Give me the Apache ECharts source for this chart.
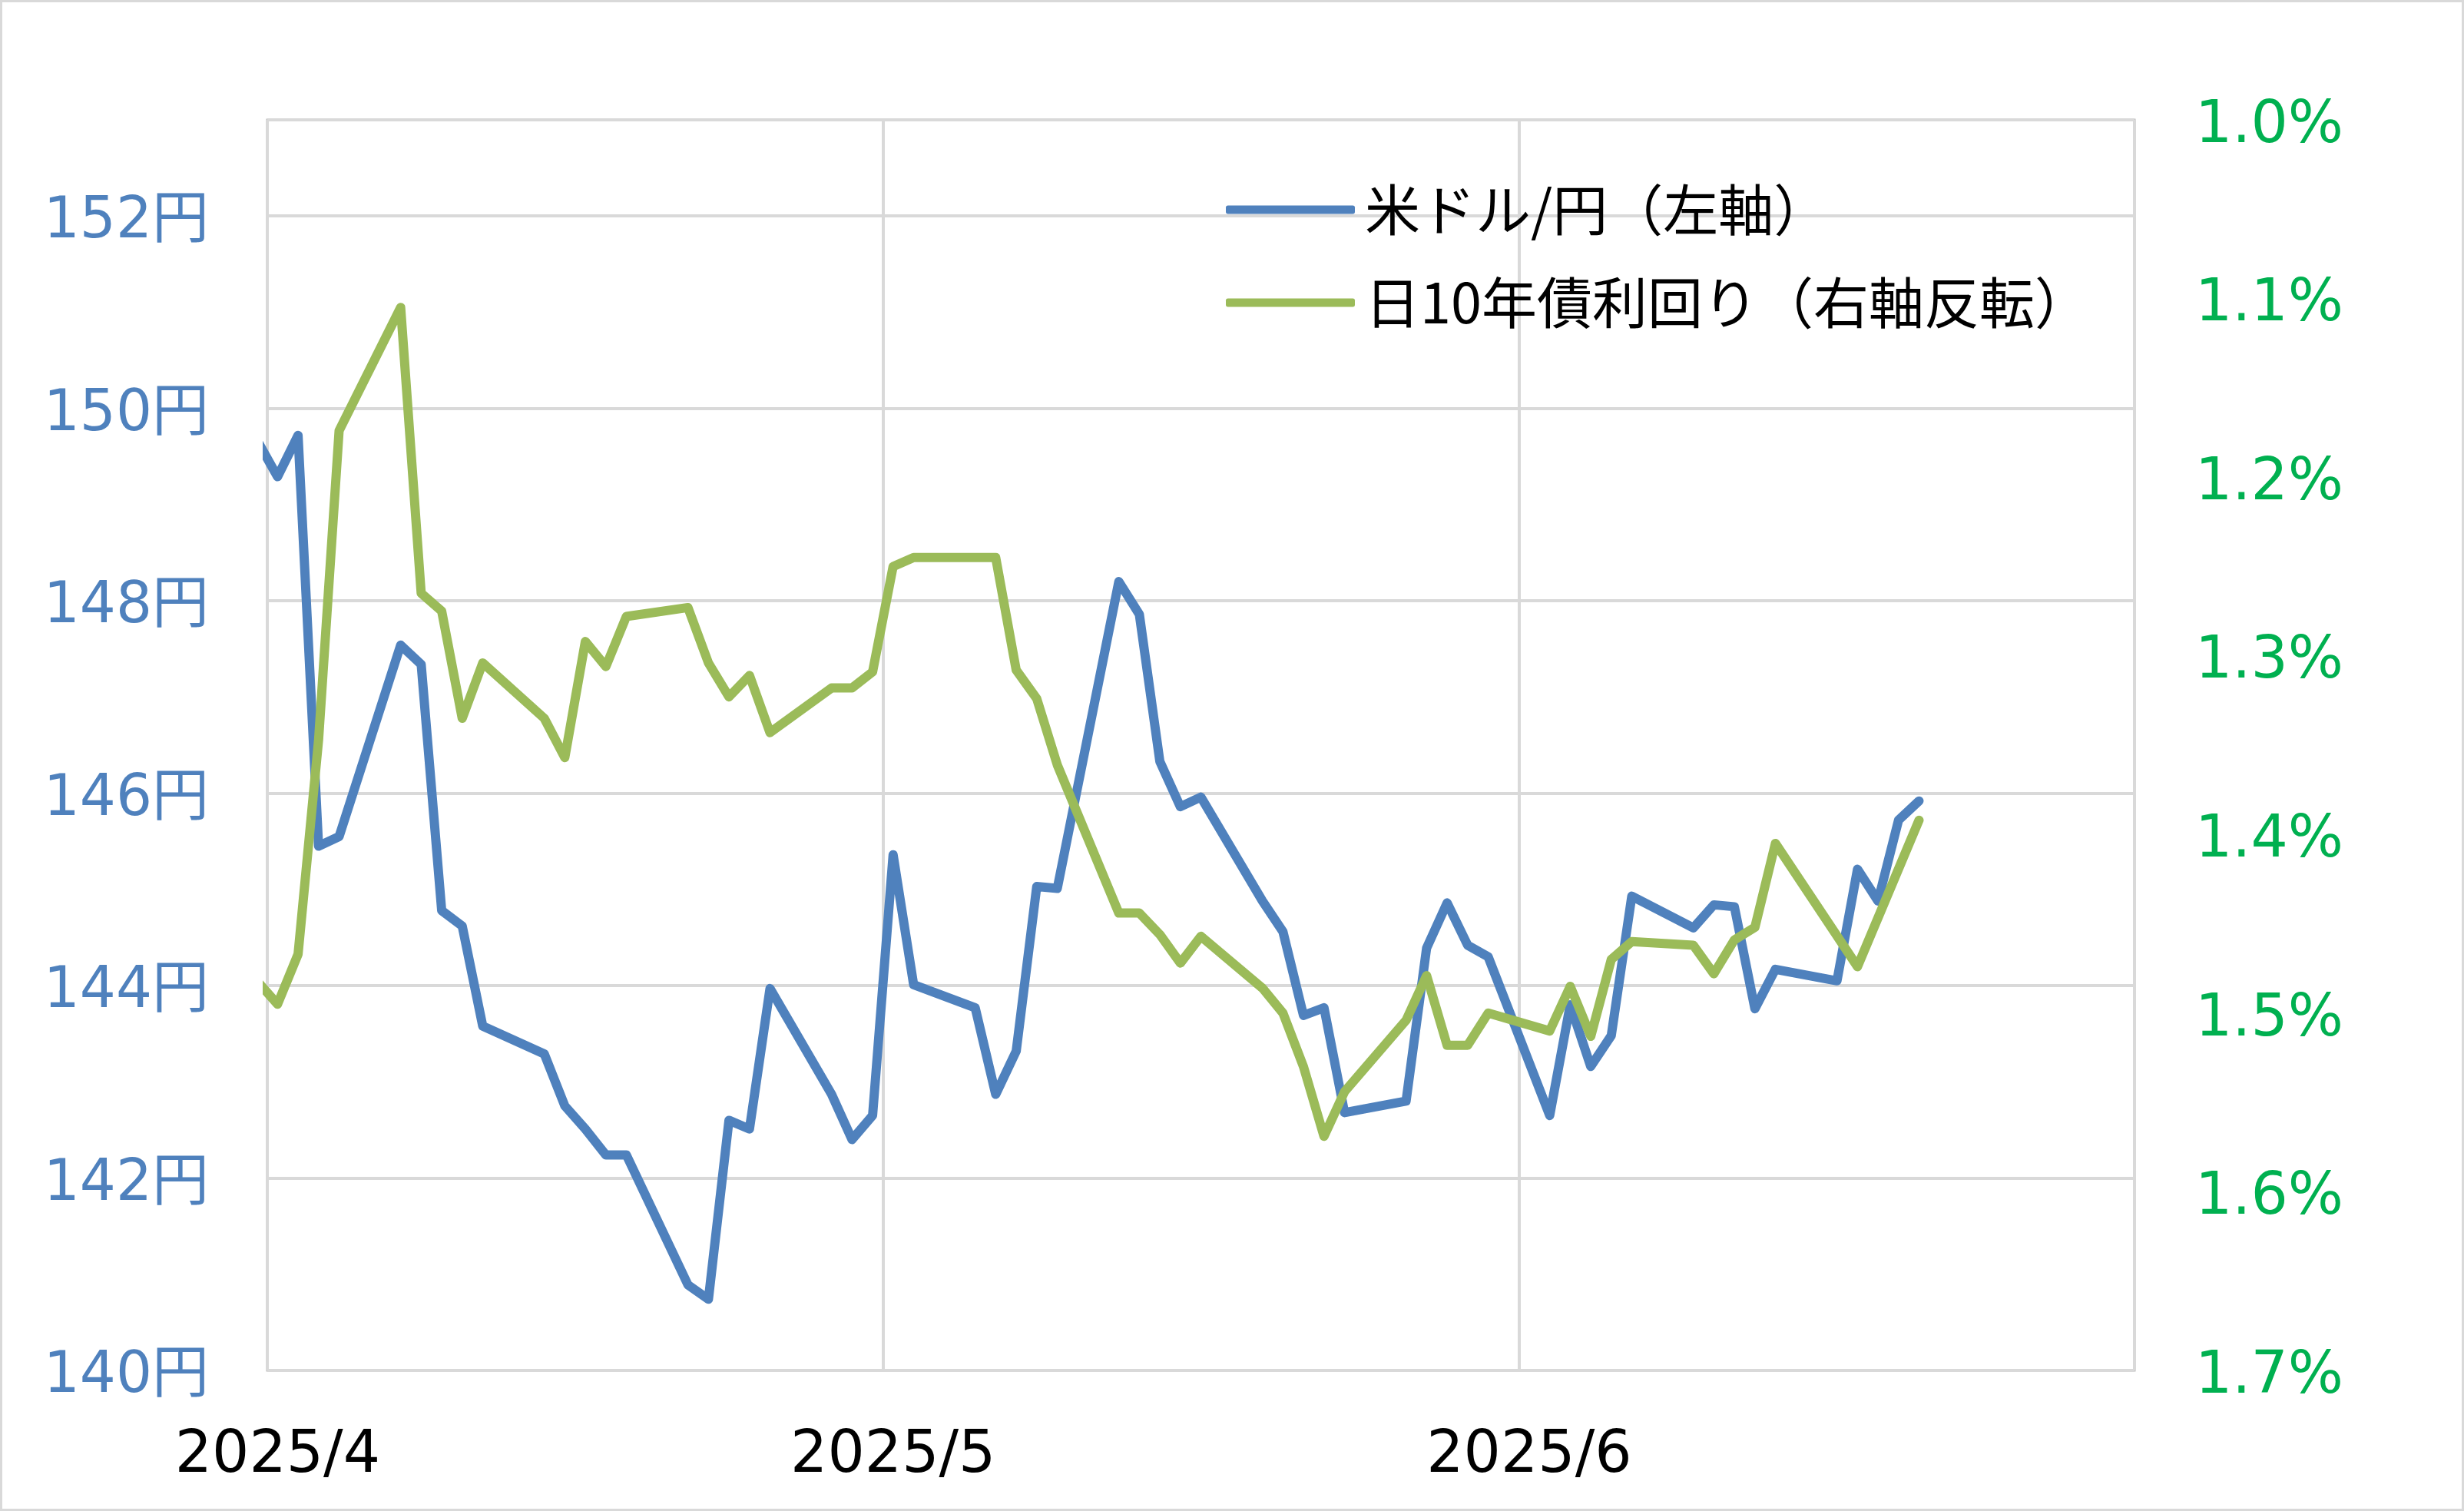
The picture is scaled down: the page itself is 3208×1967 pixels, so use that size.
<!DOCTYPE html>
<html>
<head>
<meta charset="utf-8">
<script src="https://cdn.jsdelivr.net/npm/echarts@6/dist/echarts.min.js"></script>
<style>
html,body{margin:0;padding:0;background:#fff;}
#wrap{position:relative;width:3208px;height:1967px;}
#chart{width:3208px;height:1967px;}
#frame{position:absolute;left:0;top:0;width:3208px;height:1967px;box-sizing:border-box;border:3px solid #d9d9d9;pointer-events:none;}
</style>
</head>
<body>
<div id="wrap"><div id="chart"></div><div id="frame"></div></div>
<script>
// Business days (first one sits just before the axis start and is clipped)
const dates = [
 '2025-03-31','2025-04-01','2025-04-02','2025-04-03','2025-04-04',
 '2025-04-07','2025-04-08','2025-04-09','2025-04-10','2025-04-11',
 '2025-04-14','2025-04-15','2025-04-16','2025-04-17','2025-04-18',
 '2025-04-21','2025-04-22','2025-04-23','2025-04-24','2025-04-25',
 '2025-04-28','2025-04-29','2025-04-30','2025-05-01','2025-05-02',
 '2025-05-05','2025-05-06','2025-05-07','2025-05-08','2025-05-09',
 '2025-05-12','2025-05-13','2025-05-14','2025-05-15','2025-05-16',
 '2025-05-19','2025-05-20','2025-05-21','2025-05-22','2025-05-23',
 '2025-05-26','2025-05-27','2025-05-28','2025-05-29','2025-05-30',
 '2025-06-02','2025-06-03','2025-06-04','2025-06-05','2025-06-06',
 '2025-06-09','2025-06-10','2025-06-11','2025-06-12','2025-06-13',
 '2025-06-16','2025-06-17','2025-06-18','2025-06-19','2025-06-20'
];
// USD/JPY (left axis, yen)
const usdjpy = [
 149.67,149.29,149.72,145.45,145.55,
 147.54,147.34,144.78,144.62,143.58,
 143.29,142.75,142.51,142.24,142.24,
 140.89,140.74,142.60,142.51,143.97,
 142.87,142.40,142.65,145.36,144.01,
 143.77,142.87,143.32,145.03,145.01,
 148.20,147.86,146.33,145.86,145.96,
 144.88,144.56,143.69,143.77,142.68,
 142.80,144.39,144.86,144.42,144.30,
 142.65,143.80,143.16,143.48,144.93,
 144.60,144.84,144.82,143.76,144.17,
 144.05,145.21,144.88,145.72,145.92
];
// JGB 10y yield (right axis, inverted, %)
const jgb10y = [
 1.482,1.495,1.467,1.347,1.174,
 1.105,1.265,1.275,1.335,1.304,
 1.335,1.357,1.292,1.306,1.278,
 1.273,1.304,1.323,1.311,1.343,
 1.318,1.318,1.309,1.250,1.245,
 1.245,1.245,1.308,1.324,1.361,
 1.444,1.444,1.456,1.472,1.457,
 1.486,1.500,1.530,1.569,1.544,
 1.504,1.479,1.518,1.518,1.500,
 1.510,1.485,1.513,1.470,1.460,
 1.462,1.478,1.459,1.452,1.405,
 null,1.474,null,null,1.392
];
const seriesNames = ['米ドル/円（左軸）','日10年債利回り（右軸反転）'];
const monthTicks = ['2025-04-01','2025-05-01','2025-06-01','2025-07-01'];
const axisStart = '2025-04-01', axisEnd = '2025-07-01';
const leftMin = 140, leftMax = 153, leftStep = 2;
const rightMin = 1.0, rightMax = 1.7, rightStep = 0.1;

function t(s, h){ return new Date(s + 'T00:00:00').getTime() + (h||0)*3600000; }
const DAYCENTER = 12;
const blueData = dates.map((d,i)=>[t(d,DAYCENTER), usdjpy[i]]);
const greenData = dates.map((d,i)=>[t(d,DAYCENTER), jgb10y[i]]);

const FONT = '"DejaVu Sans","Noto Sans CJK JP",sans-serif';
const chart = echarts.init(document.getElementById('chart'), null, {renderer:'canvas'});
chart.setOption({
  animation:false,
  backgroundColor:'#ffffff',
  grid:{left:348,right:429,top:156,bottom:183,show:true,borderColor:'#bfbfbf',borderWidth:3,backgroundColor:'transparent'},
  legend:{
    orient:'vertical',left:1596,top:237,padding:0,itemGap:49,
    itemWidth:168,itemHeight:11,icon:'roundRect',
    textStyle:{fontFamily:'"Noto Sans CJK JP",sans-serif',fontSize:72,lineHeight:72,color:'#000',padding:[0,0,0,8]},
    data:seriesNames
  },
  xAxis:{
    type:'value',min:t(axisStart),max:t(axisEnd),
    axisLine:{show:false},
    axisTick:{show:false,customValues:monthTicks.map(s=>t(s))},
    splitLine:{show:true,lineStyle:{color:'#d9d9d9',width:4}},
    axisLabel:{
      customValues:monthTicks.slice(0,3).map(s=>t(s,DAYCENTER)),
      margin:74,fontFamily:FONT,fontSize:76,color:'#000',
      formatter:function(v){const d=new Date(v);return d.getFullYear()+'/'+(d.getMonth()+1);}
    }
  },
  yAxis:[
    {type:'value',min:leftMin,max:leftMax,interval:leftStep,position:'left',
     axisLine:{show:false},axisTick:{show:false},
     splitLine:{show:true,lineStyle:{color:'#d9d9d9',width:4}},
     axisLabel:{showMaxLabel:false,margin:76,fontFamily:FONT,fontSize:74,color:'#4f81bd',
       formatter:v=>'{a|'+v+'円}',rich:{a:{fontFamily:FONT,fontSize:74,color:'#4f81bd',padding:[18,0,0,0]}}}},
    {type:'value',min:rightMin,max:rightMax,interval:rightStep,inverse:true,position:'right',
     axisLine:{show:false},axisTick:{show:false},splitLine:{show:false},
     axisLabel:{margin:79,fontFamily:FONT,fontSize:76,color:'#00b050',
       formatter:v=>'{a|'+v.toFixed(1)+'%}',rich:{a:{fontFamily:FONT,fontSize:76,color:'#00b050',padding:[18,0,0,0]}}}}
  ],
  series:[
    {name:seriesNames[0],type:'line',yAxisIndex:0,data:blueData,showSymbol:false,symbol:'none',clip:true,
     lineStyle:{color:'#4f81bd',width:12,join:'round',cap:'round'},itemStyle:{color:'#4f81bd'}},
    {name:seriesNames[1],type:'line',yAxisIndex:1,data:greenData,showSymbol:false,symbol:'none',clip:true,connectNulls:true,
     lineStyle:{color:'#9bbb59',width:12,join:'round',cap:'round'},itemStyle:{color:'#9bbb59'}}
  ]
});
</script>
</body>
</html>
